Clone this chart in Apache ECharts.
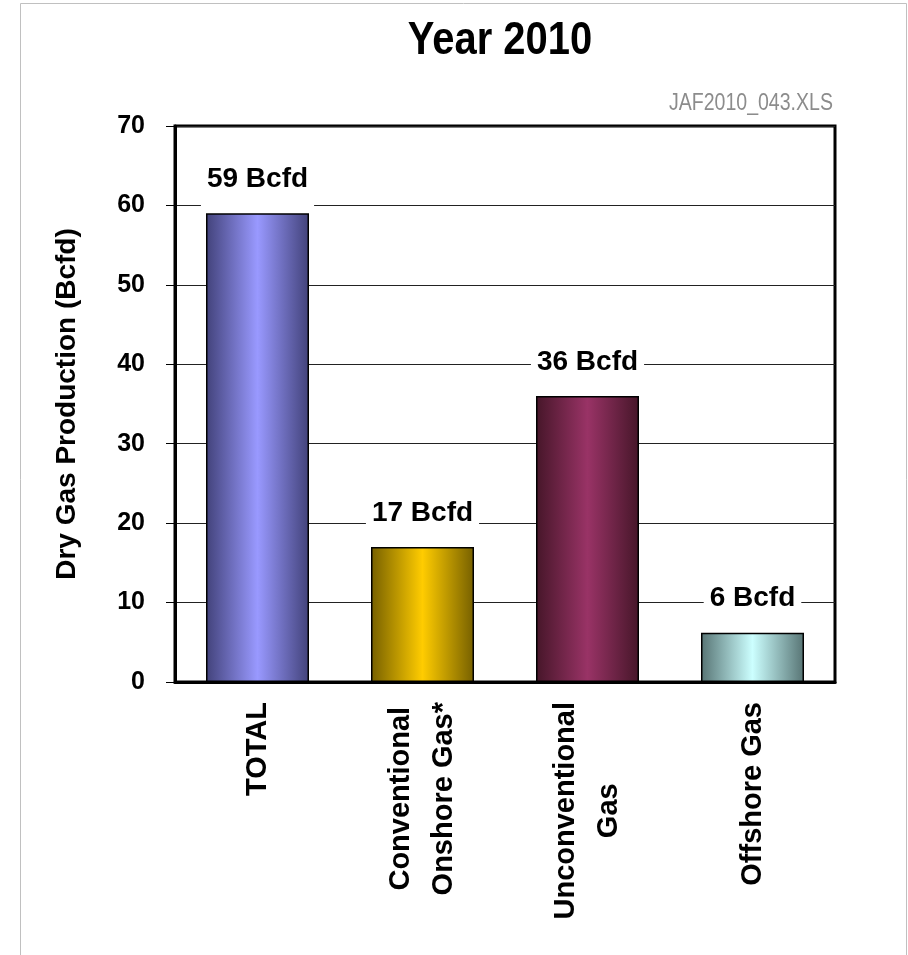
<!DOCTYPE html>
<html>
<head>
<meta charset="utf-8">
<script src="https://cdn.jsdelivr.net/npm/echarts@6/dist/echarts.min.js"></script>
<style>
html,body{margin:0;padding:0;background:#fff;}
#c{width:908px;height:955px;}
</style>
</head>
<body>
<div id="c"></div>
<script>
// ---- data ----
const categories = ['TOTAL', 'Conventional\nOnshore Gas*', 'Unconventional\nGas', 'Offshore Gas'];
const values = [59, 17, 36, 6.2];
const yTicks = { min: 0, max: 70, interval: 10 };
const titleText = 'Year 2010';
const fileTag = 'JAF2010_043.XLS';
const yAxisName = 'Dry Gas Production (Bcfd)';
const unit = 'Bcfd';

// ---- styles ----
const barEdge = ['#42427a', '#766000', '#461629', '#577474'];
const barCenter = ['#9999ff', '#ffcc00', '#993366', '#ccffff'];
const ARIAL = "'Liberation Sans', Arial, sans-serif";

const chart = echarts.init(document.getElementById('c'), null, { renderer: 'canvas' });

const seriesData = values.map((v, i) => ({
  value: v,
  itemStyle: {
    color: new echarts.graphic.LinearGradient(0, 0, 1, 0, [
      { offset: 0, color: barEdge[i] },
      { offset: 0.5, color: barCenter[i] },
      { offset: 1, color: barEdge[i] }
    ])
  }
}));

const option = {
  backgroundColor: '#fff',
  animation: false,
  graphic: [
    {
      type: 'rect',
      shape: { x: 20.5, y: 3.5, width: 886, height: 1000 },
      style: { fill: 'none', stroke: '#c0c0c0', lineWidth: 1 },
      silent: true
    },
    {
      type: 'text',
      x: 500, y: 41,
      scaleX: 0.85,
      style: {
        text: titleText,
        font: "bold 47px 'Liberation Sans', Arial, sans-serif",
        fill: '#000', align: 'center', verticalAlign: 'middle'
      }
    },
    {
      type: 'text',
      x: 833, y: 104,
      scaleX: 0.85,
      style: {
        text: fileTag,
        font: "23px 'Liberation Sans', Arial, sans-serif",
        fill: '#8c8c8c', align: 'right', verticalAlign: 'middle'
      }
    }
  ],
  grid: {
    left: 175, right: 73, top: 126, bottom: 273,
    show: true, borderColor: '#000', borderWidth: 3, backgroundColor: 'transparent'
  },
  xAxis: {
    type: 'category',
    data: categories,
    axisLine: { lineStyle: { color: '#000', width: 3 } },
    axisTick: { show: false },
    axisLabel: {
      interval: 0,
      rotate: 90,
      margin: 20,
      color: '#000',
      formatter: function (v) {
        return v.split('\n').map(s => '{c|' + s + '}').join('\n');
      },
      rich: {
        c: { fontFamily: ARIAL, fontWeight: 'bold', fontSize: 29, lineHeight: 43, align: 'center', color: '#000' }
      }
    }
  },
  yAxis: {
    type: 'value',
    min: yTicks.min, max: yTicks.max, interval: yTicks.interval,
    name: yAxisName,
    nameLocation: 'middle',
    nameGap: 94,
    nameTextStyle: { fontFamily: ARIAL, fontWeight: 'bold', fontSize: 28, color: '#000' },
    axisLine: { show: true, lineStyle: { color: '#000', width: 3 } },
    axisTick: { show: true, inside: false, length: 9, lineStyle: { color: '#000', width: 1 } },
    axisLabel: { margin: 30, fontFamily: ARIAL, fontWeight: 'bold', fontSize: 25, color: '#000' },
    splitLine: { show: true, lineStyle: { color: '#222', width: 1 } }
  },
  series: [{
    type: 'bar',
    data: seriesData,
    barWidth: 103,
    itemStyle: { borderColor: '#000', borderWidth: 1.5 },
    label: {
      show: true,
      position: 'top',
      distance: 3,
      formatter: p => Math.round(p.value) + ' ' + unit,
      fontFamily: ARIAL,
      fontWeight: 'bold',
      fontSize: 28,
      lineHeight: 28,
      color: '#000',
      backgroundColor: '#fff',
      padding: [2, 6, 17, 6]
    }
  }]
};
chart.setOption(option);
</script>
</body>
</html>
